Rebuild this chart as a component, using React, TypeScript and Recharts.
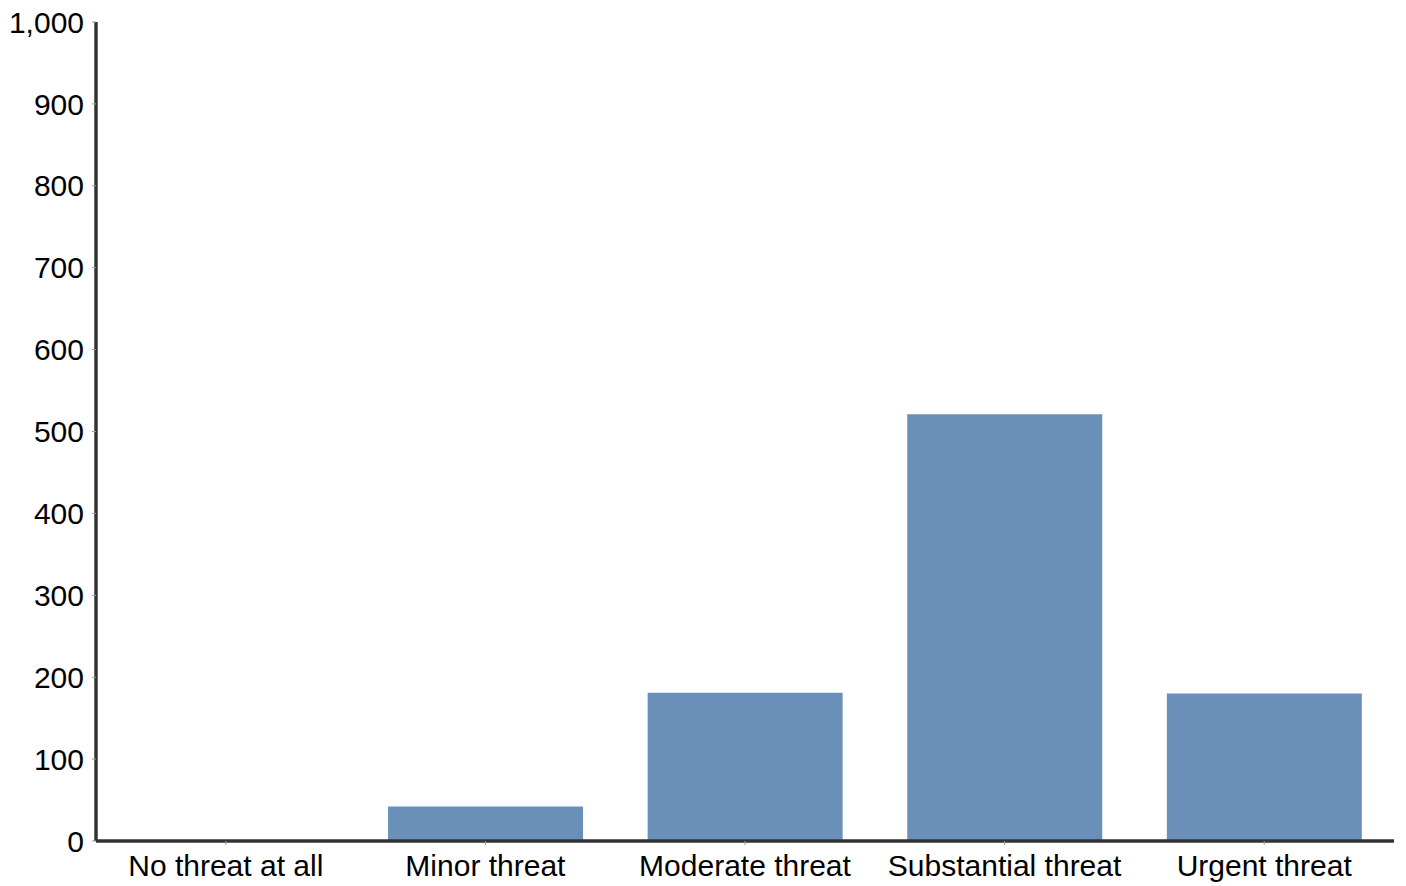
import { BarChart, Bar, XAxis, YAxis } from 'recharts';

const categories = ['No threat at all', 'Minor threat', 'Moderate threat', 'Substantial threat', 'Urgent threat'];
const counts = [0, 42, 181, 521, 180];
const yTicks = [0, 100, 200, 300, 400, 500, 600, 700, 800, 900, 1000];

const data = categories.map((name, i) => ({ name, value: counts[i] }));

const FONT = '"Liberation Sans", Arial, sans-serif';

export default function App() {
  return (
    <div style={{ position: 'absolute', left: 0, top: 0, background: '#fff' }}>
      <BarChart
        width={1406}
        height={886}
        data={data}
        margin={{ top: 22, right: 12, bottom: 0, left: 0 }}
        barCategoryGap="12.5%"
      >
        <XAxis
          dataKey="name"
          height={45}
          axisLine={{ stroke: '#333', strokeWidth: 3.5 }}
          tickLine={{ stroke: '#999' }}
          tickSize={4}
          tickMargin={10}
          tick={{ fill: '#000', fontSize: 30, fontFamily: FONT }}
          interval={0}
        />
        <YAxis
          width={96}
          domain={[0, 1000]}
          ticks={yTicks}
          tickFormatter={(v: number) => v.toLocaleString('en-US')}
          axisLine={{ stroke: '#333', strokeWidth: 3.5 }}
          tickLine={{ stroke: '#999' }}
          tickSize={4}
          tickMargin={8}
          tick={{ fill: '#000', fontSize: 30, fontFamily: FONT }}
        />
        <Bar dataKey="value" fill="#6a8fb8" isAnimationActive={false} />
      </BarChart>
    </div>
  );
}
